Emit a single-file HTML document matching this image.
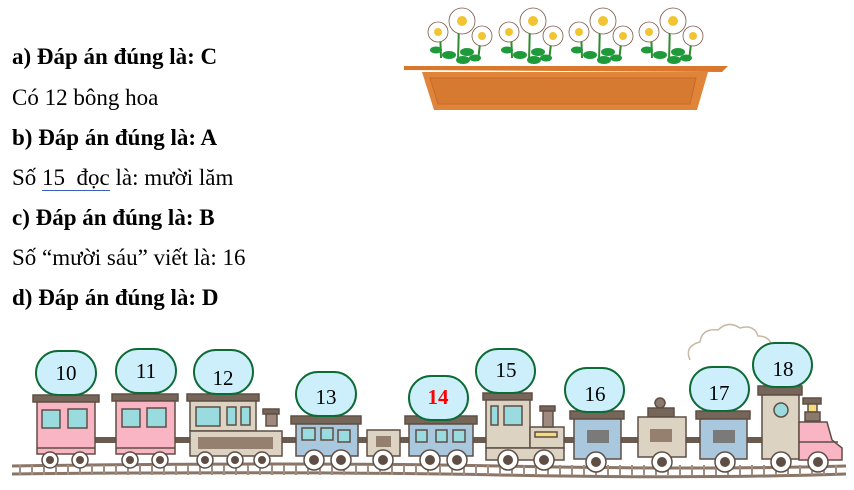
<!DOCTYPE html>
<html><head><meta charset="utf-8"><style>
body{margin:0;width:854px;height:490px;background:#fff;position:relative;overflow:hidden;font-family:"Liberation Serif",serif;}
.t{position:absolute;left:12px;font-size:23px;line-height:23px;color:#000;white-space:nowrap}
.b{font-weight:bold}
svg{position:absolute;left:0;top:0}
</style></head><body>
<svg width="854" height="490" viewBox="0 0 854 490">
<g>
<g stroke="#7a5a4a" stroke-width="0.8" fill="#fff">
<g id="f1">
 <path d="M440 30 l1 28 M459 22 l-1 40 M481 35 l-3 26" stroke="#2e8b2e" stroke-width="2" fill="none"/>
 <ellipse cx="449" cy="55" rx="7" ry="4" fill="#1f9a3a" stroke="none"/>
 <ellipse cx="467" cy="52" rx="7" ry="4" fill="#1f9a3a" stroke="none"/>
 <ellipse cx="463" cy="60" rx="7" ry="4" fill="#1f9a3a" stroke="none"/>
 <ellipse cx="436" cy="50" rx="6" ry="3.5" fill="#1f9a3a" stroke="none"/>
 <ellipse cx="475" cy="58" rx="6" ry="3.5" fill="#1f9a3a" stroke="none"/>
 <circle cx="438" cy="32" r="10"/><circle cx="438" cy="32" r="4" fill="#f2c431" stroke="none"/>
 <circle cx="462" cy="21" r="13"/><circle cx="462" cy="21" r="5" fill="#f2c431" stroke="none"/>
 <circle cx="482" cy="36" r="10"/><circle cx="482" cy="36" r="4" fill="#f2c431" stroke="none"/>
</g>
<use href="#f1" x="71"/><use href="#f1" x="141"/><use href="#f1" x="211"/>
</g>
<path d="M404 66 L728 66 L722 72 L404 70 Z" fill="#d9782c"/>
<path d="M422 72 L708 72 L697 110 L434 110 Z" fill="#e0843a"/>
<path d="M430 78 L696 78 L690 104 L438 104 Z" fill="#d67a32" stroke="#c8692a" stroke-width="1"/>
</g>
<path d="M12 466 Q300 462 500 466 T846 466" stroke="#8a7566" stroke-width="3" fill="none"/>
<path d="M12 474 Q300 471 500 475 T846 474" stroke="#8a7566" stroke-width="3" fill="none"/>
<g stroke="#a08e82" stroke-width="2">
<path d="M20 465v10M32 465v10M44 465v10M56 465v10M68 465v10M80 465v10M92 465v10M104 465v10M116 465v10M128 465v10M140 465v10M152 465v10M164 465v10M176 465v10M188 465v10M200 465v10M212 465v10M224 465v10M236 465v10M248 465v10M260 465v10M272 465v10M284 465v10M296 465v10M308 465v10M320 465v10M332 465v10M344 465v10M356 465v10M368 465v10M380 465v10M392 465v10M404 465v10M416 465v10M428 465v10M440 465v10M452 465v10M464 465v10M476 465v10M488 465v10M500 465v10M512 465v10M524 465v10M536 465v10M548 465v10M560 465v10M572 465v10M584 465v10M596 465v10M608 465v10M620 465v10M632 465v10M644 465v10M656 465v10M668 465v10M680 465v10M692 465v10M704 465v10M716 465v10M728 465v10M740 465v10M752 465v10M764 465v10M776 465v10M788 465v10M800 465v10M812 465v10M824 465v10M836 465v10"/>
</g>
<path d="M90 440H820" stroke="#6b5a4e" stroke-width="6"/>
<path d="M690 360 q-6 -14 10 -18 q2 -14 18 -12 q10 -10 22 -2 q14 -4 18 8 q14 0 14 14 q14 4 12 18 q0 14 -8 20" fill="none" stroke="#c9b8a2" stroke-width="1.5"/>
<g stroke="#5e4e44" stroke-width="1.5">
<rect x="33" y="395" width="66" height="7" fill="#76665a"/>
<rect x="37" y="402" width="58" height="52" fill="#f9b5c3"/>
<path d="M37 448h58" />
<rect x="42" y="410" width="18" height="18" fill="#9adbe0"/><rect x="68" y="409" width="19" height="19" fill="#9adbe0"/>
<rect x="112" y="394" width="66" height="7" fill="#76665a"/>
<rect x="116" y="401" width="59" height="53" fill="#f9b5c3"/>
<path d="M116 448h59"/>
<rect x="122" y="409" width="18" height="18" fill="#9adbe0"/><rect x="147" y="408" width="19" height="19" fill="#9adbe0"/>
<rect x="187" y="394" width="72" height="7" fill="#76665a"/>
<rect x="190" y="401" width="66" height="30" fill="#ddd3c2"/>
<rect x="190" y="431" width="92" height="25" fill="#ddd3c2"/>
<rect x="198" y="437" width="75" height="12" fill="#958070" stroke="none"/>
<rect x="196" y="407" width="24" height="19" fill="#9adbe0"/><rect x="227" y="407" width="9" height="18" fill="#9adbe0"/><rect x="241" y="407" width="9" height="18" fill="#9adbe0"/>
<rect x="263" y="409" width="16" height="5" fill="#76665a"/><rect x="266" y="414" width="11" height="12" fill="#a08a80"/>
<rect x="291" y="416" width="70" height="8" fill="#76665a"/>
<rect x="296" y="424" width="62" height="32" fill="#a9c8dd"/>
<rect x="302" y="428" width="13" height="12" fill="#9adbe0"/><rect x="321" y="428" width="12" height="12" fill="#9adbe0"/><rect x="338" y="430" width="12" height="12" fill="#9adbe0"/>
<rect x="367" y="430" width="33" height="26" fill="#ddd3c2"/><rect x="376" y="436" width="15" height="11" fill="#958070" stroke="none"/>
<rect x="405" y="416" width="72" height="8" fill="#76665a"/>
<rect x="409" y="424" width="64" height="32" fill="#a9c8dd"/>
<rect x="416" y="430" width="11" height="12" fill="#9adbe0"/><rect x="436" y="430" width="11" height="12" fill="#9adbe0"/><rect x="453" y="430" width="12" height="12" fill="#9adbe0"/>
<rect x="483" y="393" width="49" height="7" fill="#76665a"/>
<rect x="486" y="400" width="44" height="48" fill="#ddd3c2"/>
<rect x="530" y="427" width="34" height="21" fill="#ddd3c2"/>
<rect x="486" y="448" width="78" height="12" fill="#ddd3c2"/>
<rect x="491" y="406" width="7" height="19" fill="#9adbe0"/><rect x="504" y="406" width="18" height="19" fill="#9adbe0"/>
<rect x="540" y="406" width="15" height="5" fill="#76665a"/><rect x="543" y="411" width="10" height="16" fill="#a08a80"/>
<rect x="535" y="432" width="22" height="5" fill="#f7dc7a"/>
<rect x="570" y="411" width="54" height="8" fill="#76665a"/>
<rect x="574" y="419" width="47" height="40" fill="#a9c8dd"/>
<rect x="587" y="430" width="22" height="13" fill="#7a7a7a" stroke="none"/>
<circle cx="660" cy="403" r="5" fill="#8a7a6e"/>
<rect x="648" y="408" width="26" height="9" fill="#76665a"/>
<rect x="638" y="417" width="48" height="40" fill="#ddd3c2"/>
<rect x="650" y="429" width="22" height="13" fill="#958070" stroke="none"/>
<rect x="696" y="411" width="54" height="8" fill="#76665a"/>
<rect x="700" y="419" width="47" height="40" fill="#a9c8dd"/>
<rect x="713" y="430" width="22" height="13" fill="#7a7a7a" stroke="none"/>
<rect x="758" y="386" width="44" height="9" fill="#76665a"/>
<rect x="762" y="395" width="37" height="64" fill="#ddd3c2"/>
<circle cx="781" cy="410" r="7" fill="#9adbe0"/>
<rect x="803" y="398" width="18" height="6" fill="#76665a"/>
<rect x="808" y="404" width="9" height="8" fill="#f7dc7a"/>
<rect x="805" y="412" width="15" height="9" fill="#8a7a6e"/>
<path d="M799 422 L827 422 L832 440 L842 448 L842 460 L799 460 Z" fill="#f9b5c3"/>
<path d="M799 442 L838 442" />
</g>
<g fill="#fff" stroke="#5e4e44" stroke-width="1.5">
<circle cx="50" cy="460" r="8"/><circle cx="80" cy="460" r="8"/>
<circle cx="130" cy="460" r="8"/><circle cx="160" cy="460" r="8"/>
<circle cx="205" cy="460" r="8"/><circle cx="235" cy="460" r="8"/><circle cx="262" cy="460" r="8"/>
<circle cx="314" cy="460" r="10"/><circle cx="341" cy="460" r="10"/><circle cx="383" cy="460" r="10"/>
<circle cx="430" cy="460" r="10"/><circle cx="457" cy="460" r="10"/>
<circle cx="508" cy="460" r="10"/><circle cx="544" cy="460" r="10"/>
<circle cx="596" cy="462" r="10"/><circle cx="662" cy="462" r="10"/><circle cx="725" cy="462" r="10"/>
<circle cx="781" cy="462" r="10"/><circle cx="818" cy="462" r="10"/>
</g>
<g fill="#5e4e44">
<circle cx="50" cy="460" r="4"/><circle cx="80" cy="460" r="4"/><circle cx="130" cy="460" r="4"/><circle cx="160" cy="460" r="4"/>
<circle cx="205" cy="460" r="4"/><circle cx="235" cy="460" r="4"/><circle cx="262" cy="460" r="4"/>
<circle cx="314" cy="460" r="5"/><circle cx="341" cy="460" r="5"/><circle cx="383" cy="460" r="5"/>
<circle cx="430" cy="460" r="5"/><circle cx="457" cy="460" r="5"/><circle cx="508" cy="460" r="5"/><circle cx="544" cy="460" r="5"/>
<circle cx="596" cy="462" r="5"/><circle cx="662" cy="462" r="5"/><circle cx="725" cy="462" r="5"/><circle cx="781" cy="462" r="5"/><circle cx="818" cy="462" r="5"/>
</g>
<g fill="#cdeefb" stroke="#0d6b35" stroke-width="2">
<rect x="36" y="351" width="60" height="44" rx="22"/>
<rect x="116" y="349" width="60" height="44" rx="22"/>
<rect x="194" y="350" width="59" height="44" rx="22"/>
<rect x="296" y="372" width="60" height="44" rx="22"/>
<rect x="409" y="376" width="59" height="44" rx="22"/>
<rect x="476" y="349" width="59" height="44" rx="22"/>
<rect x="565" y="368" width="59" height="44" rx="22"/>
<rect x="690" y="367" width="59" height="44" rx="22"/>
<rect x="753" y="343" width="59" height="44" rx="22"/>
</g>
<g font-family="Liberation Serif, serif" font-size="21" text-anchor="middle">
<text x="66" y="380">10</text><text x="146" y="378">11</text><text x="223" y="385">12</text>
<text x="326" y="404">13</text><text x="438" y="404" fill="#f00" font-weight="bold">14</text>
<text x="506" y="377">15</text><text x="595" y="401">16</text><text x="719" y="400">17</text><text x="783" y="376">18</text>
</g>
</svg>
<div class="t b" style="top:45px">a) Đáp án đúng là: C</div>
<div class="t" style="top:86px">Có 12 bông hoa</div>
<div class="t b" style="top:126px">b) Đáp án đúng là: A</div>
<div class="t" style="top:166px">Số <span style="border-bottom:1px solid #3b5fc0">15&nbsp; đọc</span> là: mười lăm</div>
<div class="t b" style="top:206px">c) Đáp án đúng là: B</div>
<div class="t" style="top:246px">Số “mười sáu” viết là: 16</div>
<div class="t b" style="top:286px">d) Đáp án đúng là: D</div>
</body></html>
